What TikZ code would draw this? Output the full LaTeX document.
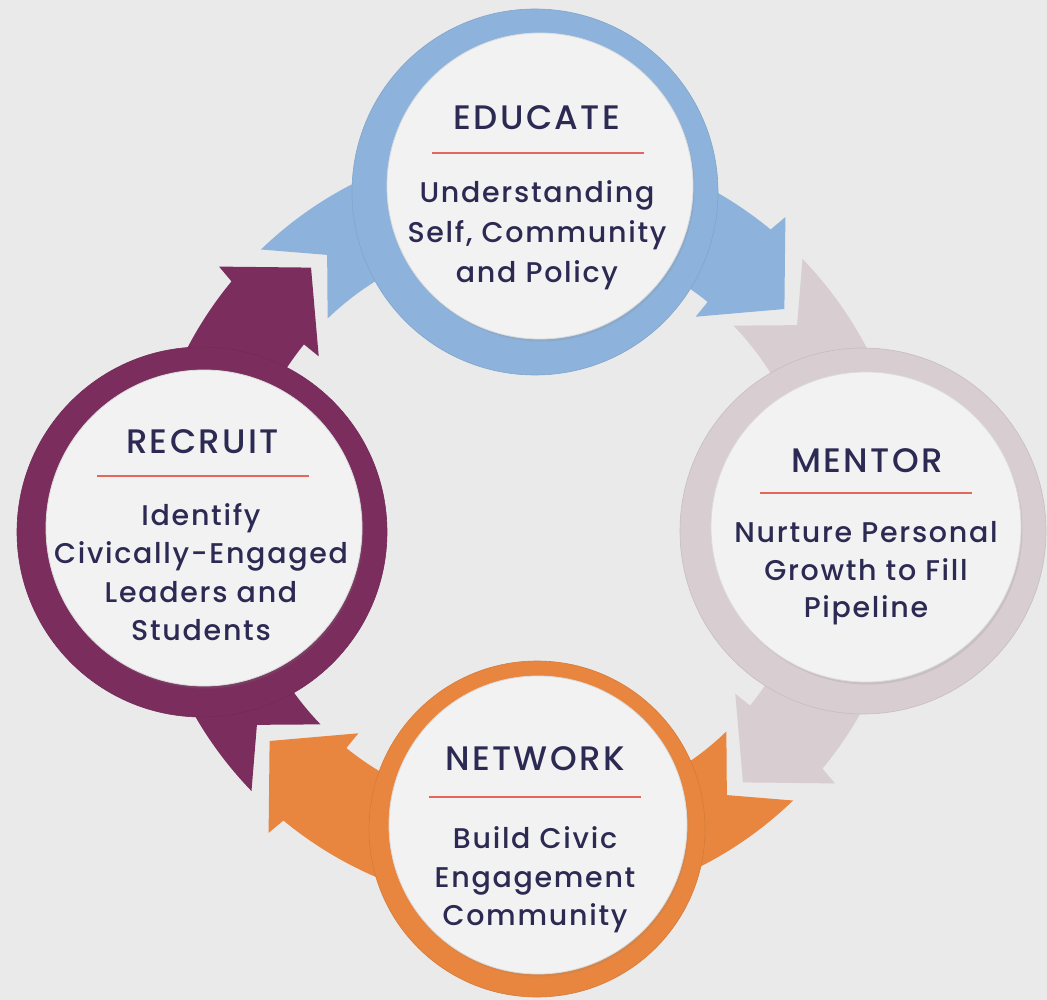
\documentclass[tikz,border=0pt]{standalone}
\usepackage{fontspec}
\newfontfamily\headfont{Poppins}[UprightFont={* Medium},LetterSpace=7]
\newfontfamily\bodyfont{Poppins}[UprightFont={* Medium},LetterSpace=6]
\usetikzlibrary{shadows}
\definecolor{bg}{HTML}{EAEAEA}
\definecolor{discwhite}{HTML}{F2F2F2}
\definecolor{cblue}{HTML}{8DB3DC}
\definecolor{cgrey}{HTML}{D8CDD0}
\definecolor{corange}{HTML}{E8863F}
\definecolor{cpurple}{HTML}{7B2E5E}
\definecolor{ink}{HTML}{2C2A52}
\definecolor{cred}{HTML}{E3675A}
\tikzset{
  ringouter/.style={circle, fill=#1, inner sep=0, draw=#1!92!black, line width=0.6pt},
  disc/.style={circle, fill=discwhite, inner sep=0, draw=black!14, line width=0.8pt,
    drop shadow={shadow xshift=1.5pt, shadow yshift=-2.5pt, opacity=0.18}},
  headtext/.style={font=\headfont\fontsize{34}{40}\selectfont, text=ink, anchor=base, inner sep=0},
  bodytext/.style={font=\bodyfont\fontsize{28.5}{39}\selectfont, text=ink, anchor=base, inner sep=0},
  rulebar/.style={fill=cred, inner sep=0, minimum height=1.4pt, minimum width=212pt},
}
\newcommand{\cyclearrow}[2]{%
  \fill[#2, shift={(527,525)}, rotate=#1]
    (40:336pt) -- (50:402pt) -- (50.5:383pt)
    arc[start angle=50.5, end angle=134, radius=383pt]
    -- (126.5:336pt) -- (134:287pt)
    arc[start angle=134, end angle=51, radius=287pt]
    -- (51:268pt) -- cycle;}
\begin{document}
\begin{tikzpicture}[x=1pt,y=-1pt]
\useasboundingbox (0,0) rectangle (1047,1000);
\fill[bg] (0,0) rectangle (1047,1000);

% arrow bands
\cyclearrow{0}{cblue}
\cyclearrow{-90}{cgrey}
\cyclearrow{180}{corange}
\cyclearrow{90}{cpurple}

% EDUCATE
\node[ringouter=cblue, minimum size=366pt] (educateRing) at (535,192) {};
\node[disc, minimum size=306pt] (educate) at (540,186) {};
\node[headtext] (educateHead) at (537,129.5) {EDUCATE};
\node[rulebar] (educateRule) at (537.5,153) {};
\node[bodytext] (educateB1) at (537,203) {Understanding};
\node[bodytext] (educateB2) at (537,243) {Self, Community};
\node[bodytext] (educateB3) at (537,283) {and Policy};

% MENTOR
\node[ringouter=cgrey, minimum size=366pt] (mentorRing) at (863,531) {};
\node[disc, minimum size=310pt] (mentor) at (866,527) {};
\node[headtext] (mentorHead) at (867,472) {MENTOR};
\node[rulebar] (mentorRule) at (866,493) {};
\node[bodytext] (mentorB1) at (866,542) {Nurture Personal};
\node[bodytext] (mentorB2) at (866,580) {Growth to Fill};
\node[bodytext] (mentorB3) at (866,617) {Pipeline};

% NETWORK
\node[ringouter=corange, minimum size=336pt] (networkRing) at (537,829) {};
\node[disc, minimum size=298pt] (network) at (538,825) {};
\node[headtext] (networkHead) at (535,770) {NETWORK};
\node[rulebar] (networkRule) at (535,797) {};
\node[bodytext] (networkB1) at (535,848) {Build Civic};
\node[bodytext] (networkB2) at (535,887) {Engagement};
\node[bodytext] (networkB3) at (535,925) {Community};

% RECRUIT
\node[ringouter=cpurple, minimum size=370pt] (recruitRing) at (202,532) {};
\node[disc, minimum size=316pt] (recruit) at (204,528) {};
\node[headtext] (recruitHead) at (202.5,453) {RECRUIT};
\node[rulebar] (recruitRule) at (202.5,476) {};
\node[bodytext] (recruitB1) at (201,525) {Identify};
\node[bodytext] (recruitB2) at (201,563) {Civically-Engaged};
\node[bodytext] (recruitB3) at (201,602) {Leaders and};
\node[bodytext] (recruitB4) at (201,640) {Students};
\end{tikzpicture}
\end{document}
